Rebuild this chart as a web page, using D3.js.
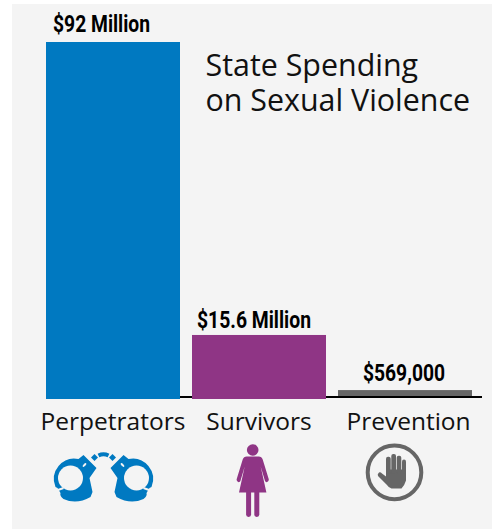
<!DOCTYPE html>
<html>
<head>
<meta charset="utf-8">
<script src="https://cdn.jsdelivr.net/npm/d3@7"></script>
<style>
html, body { margin: 0; padding: 0; background: #fff; }
svg { display: block; }
</style>
</head>
<body>
<script>
var categories = ["Perpetrators", "Survivors", "Prevention"];
// bar heights as drawn, in millions (the smaller bars are drawn a little taller than their labels)
var drawnValues = [92, 16.5, 2.3];
var valueLabels = ["$92 Million", "$15.6 Million", "$569,000"];
var barColors = ["#0079c1", "#8f3585", "#666666"];
var titleLines = ["State Spending", "on Sexual Violence"];

var svgWidth = 495, svgHeight = 529;
var panelColor = "#f4f4f4";
var svg = d3.select("body").append("svg")
  .attr("width", svgWidth)
  .attr("height", svgHeight);

// Panel
svg.append("rect")
  .attr("x", 12).attr("y", 4)
  .attr("width", 480).attr("height", 525)
  .attr("fill", panelColor);

// Scales
var x = d3.scaleBand()
  .domain(categories)
  .range([46, 472])
  .paddingInner(12 / 146);

var y = d3.scaleLinear()
  .domain([0, 92])
  .range([399, 42]);

// Baseline under the bars
svg.append("line")
  .attr("x1", 46).attr("x2", 482)
  .attr("y1", 397).attr("y2", 397)
  .attr("stroke", "#000")
  .attr("stroke-width", 2.2);

// Bars
svg.selectAll("rect.bar")
  .data(categories)
  .enter().append("rect")
  .attr("class", "bar")
  .attr("x", function(d) { return x(d); })
  .attr("width", x.bandwidth())
  .attr("y", function(d, i) { return y(drawnValues[i]); })
  .attr("height", function(d, i) { return i == 2 ? y(0) - y(drawnValues[i]) - 3 : y(0) - y(drawnValues[i]); })
  .attr("fill", function(d, i) { return barColors[i]; });

// Value labels, squeezed to look condensed
var labelWidths = [97, 114, 82];
var labelShift = [-11.5, -5, -1];
var labelGap = [10.5, 7, 9];
svg.selectAll("text.value")
  .data(categories)
  .enter().append("text")
  .attr("class", "value")
  .attr("x", function(d, i) { return x(d) + x.bandwidth() / 2 + labelShift[i]; })
  .attr("y", function(d, i) { return y(drawnValues[i]) - labelGap[i]; })
  .attr("text-anchor", "middle")
  .attr("textLength", function(d, i) { return labelWidths[i]; })
  .attr("lengthAdjust", "spacingAndGlyphs")
  .style("font-family", "Roboto, sans-serif")
  .style("font-weight", "700")
  .style("font-size", "23px")
  .attr("fill", "#000")
  .text(function(d, i) { return valueLabels[i]; });

// Category labels
svg.selectAll("text.cat")
  .data(categories)
  .enter().append("text")
  .attr("class", "cat")
  .attr("x", function(d) { return x(d) + x.bandwidth() / 2 + (d == "Prevention" ? 3.5 : 0); })
  .attr("y", 430)
  .attr("text-anchor", "middle")
  .style("font-family", "'Open Sans', sans-serif")
  .style("font-size", "24.5px")
  .attr("fill", "#111")
  .text(function(d) { return d; });

// Title
svg.selectAll("text.title")
  .data(titleLines)
  .enter().append("text")
  .attr("class", "title")
  .attr("x", 205.5)
  .attr("y", function(d, i) { return 76 + i * 35; })
  .style("font-family", "'Open Sans', sans-serif")
  .style("font-size", "30.4px")
  .attr("fill", "#111")
  .text(function(d) { return d; });

// Handcuffs icon
var cuffs = svg.append("g").attr("transform", "translate(103.5,479)");
[-1, 1].forEach(function(side) {
  var g = cuffs.append("g").attr("transform", "scale(" + side + ",1)");
  g.append("path")
    .attr("fill", barColors[0])
    .attr("d", "M20,-24 L7,-11 L14,-1 L11,13 L13,18 Q27,26 40,20 Q44,17 43,14 L46,9 L48,8 A20.5,20.5 0 0 0 25,-20 Z");
  // ring hole
  g.append("circle")
    .attr("cx", 33).attr("cy", -1)
    .attr("r", 12.5)
    .attr("fill", panelColor);
  // split in the ring
  g.append("line")
    .attr("x1", 40).attr("y1", 9)
    .attr("x2", 51).attr("y2", 13)
    .attr("stroke", panelColor)
    .attr("stroke-width", 2);
  // keyhole
  g.append("ellipse")
    .attr("transform", "translate(19,-14) rotate(45)")
    .attr("rx", 2.4).attr("ry", 1.1)
    .attr("fill", panelColor);
  // chain link
  g.append("path")
    .attr("d", "M9,-25 L12.5,-21.5 L9,-18 L5.5,-21.5 Z")
    .attr("fill", barColors[0]);
});
cuffs.append("path")
  .attr("d", "M-5,-23.5 Q0,-26 5,-23.5")
  .attr("fill", "none")
  .attr("stroke", barColors[0])
  .attr("stroke-width", 4);

// Woman icon
var woman = svg.append("g").attr("transform", "translate(252.7,440)").attr("fill", barColors[1]);
woman.append("circle").attr("cx", 0).attr("cy", 10).attr("r", 5.8);
woman.append("path").attr("d", "M-6,16.5 L6,16.5 Q9,16.5 10,19.5 L16,39 Q16.5,41 14.5,42 Q13,42.5 12.3,41 L8,26.5 L13.7,52.5 L-13.7,52.5 L-8,26.5 L-12.3,41 Q-13,42.5 -14.5,42 Q-16.5,41 -16,39 L-10,19.5 Q-9,16.5 -6,16.5 Z");
woman.append("rect").attr("x", -6.6).attr("y", 50).attr("width", 5).attr("height", 27).attr("rx", 2.4);
woman.append("rect").attr("x", 1.6).attr("y", 50).attr("width", 5).attr("height", 27).attr("rx", 2.4);

// Hand icon
var hand = svg.append("g").attr("transform", "translate(394.5,472.4)");
hand.append("circle")
  .attr("r", 26.8)
  .attr("fill", "none")
  .attr("stroke", barColors[2])
  .attr("stroke-width", 4);
hand.append("path")
  .attr("fill", barColors[2])
  .attr("d", "M-8.5,-3 L11.5,-3 L11.5,8 Q10,13 7,16 L-3,16 Q-6,15 -8,12 L-16.5,3.5 Q-17.5,1.5 -15.5,0 Q-14,-0.5 -12.5,1 L-8.5,4 Z");
var fingers = [[-8.5, -15.7, 4.7], [-3.2, -18.3, 4.7], [2.2, -16.7, 4.6], [7.5, -13, 4]];
fingers.forEach(function(f) {
  hand.append("rect")
    .attr("x", f[0]).attr("y", f[1])
    .attr("width", f[2]).attr("height", -f[1] + 1)
    .attr("rx", 2)
    .attr("fill", barColors[2]);
});
</script>
</body>
</html>
